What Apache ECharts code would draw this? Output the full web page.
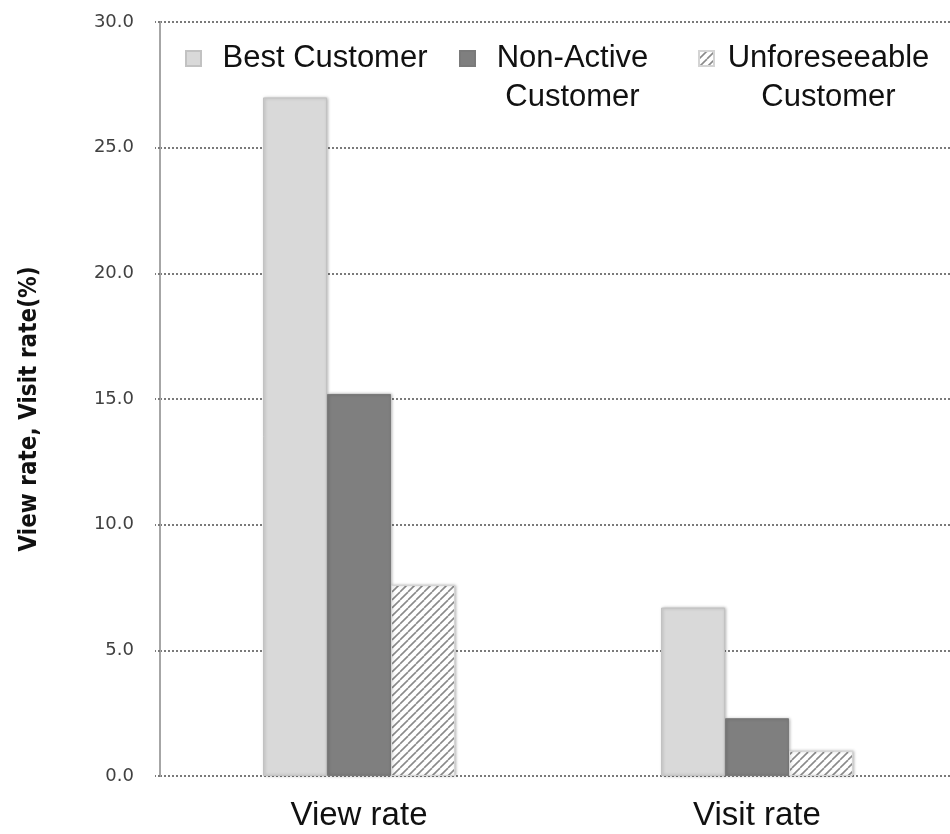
<!DOCTYPE html>
<html>
<head>
<meta charset="utf-8">
<script src="https://cdn.jsdelivr.net/npm/echarts@6/dist/echarts.min.js"></script>
<style>
  html, body { margin: 0; padding: 0; background: #ffffff; overflow: hidden; }
  /* the plot area runs slightly past the right edge of the window */
  #chart { width: 956px; height: 834px; }
</style>
</head>
<body>
<div id="chart"></div>
<script>
// Rates per customer segment (%)
const categories = ['View rate', 'Visit rate'];
const seriesNames = ['Best Customer', 'Non-Active Customer', 'Unforeseeable Customer'];
const bestCustomer = [27.0, 6.7];
const nonActiveCustomer = [15.2, 2.3];
const unforeseeableCustomer = [7.6, 1.0];
const yTicks = [0, 5, 10, 15, 20, 25, 30];

// Diagonal hatch tile for the third segment
const hatch = document.createElement('canvas');
hatch.width = 8;
hatch.height = 8;
(function () {
  const ctx = hatch.getContext('2d');
  ctx.fillStyle = '#ffffff';
  ctx.fillRect(0, 0, 8, 8);
  ctx.strokeStyle = '#8a8a8a';
  ctx.lineWidth = 1.6;
  for (const off of [-8, 0, 8]) {
    ctx.beginPath();
    ctx.moveTo(off, 8);
    ctx.lineTo(off + 8, 0);
    ctx.stroke();
  }
})();

const textFont = '"Liberation Sans", Arial, Helvetica, sans-serif';
const dotted = { color: '#7a7a7a', width: 2, type: [2, 2] };

function legendAt(name, left, top, lines, blockWidth) {
  const parts = lines.map(function (l) { return '{a|' + l + '}'; });
  if (lines.length > 1) parts.unshift('{e| }');
  return {
    data: [name],
    left: left,
    top: top,
    padding: 0,
    icon: 'rect',
    itemWidth: 15,
    itemHeight: 15,
    selectedMode: false,
    formatter: function () { return parts.join('\n'); },
    textStyle: {
      fontFamily: textFont,
      fontSize: 31,
      color: '#111111',
      lineHeight: 39,
      rich: {
        a: { fontFamily: textFont, fontSize: 31, color: '#111111', lineHeight: 39, width: blockWidth, align: 'center' },
        e: { fontSize: 31, lineHeight: 39 }
      }
    }
  };
}

const chart = echarts.init(document.getElementById('chart'), null, { renderer: 'canvas' });

const shadow = { shadowBlur: 3, shadowColor: 'rgba(0,0,0,0.25)', shadowOffsetX: 1 };

chart.setOption({
  animation: false,
  backgroundColor: '#ffffff',
  grid: { left: 160, right: 0, top: 22, bottom: 58 },
  legend: [
    legendAt(seriesNames[0], 185, 39, ['Best Customer'], 238),
    legendAt(seriesNames[1], 459, 0, ['Non-Active', 'Customer'], 185),
    legendAt(seriesNames[2], 698, 0, ['Unforeseeable', 'Customer'], 219)
  ],
  xAxis: {
    type: 'category',
    data: categories,
    axisLine: { show: false },
    axisTick: { show: false },
    axisLabel: { fontFamily: textFont, fontSize: 33, color: '#111111', margin: 23 }
  },
  yAxis: {
    type: 'value',
    min: yTicks[0],
    max: yTicks[yTicks.length - 1],
    interval: 5,
    name: 'View rate, Visit rate(%)',
    nameLocation: 'middle',
    nameRotate: 90,
    nameGap: 118,
    nameTextStyle: {
      fontFamily: '"DejaVu Sans Condensed", "Liberation Sans Narrow", "Liberation Sans", sans-serif',
      fontWeight: 'bold',
      fontSize: 24,
      color: '#111111',
      padding: [0, 0, 0, -20]
    },
    axisLine: { show: true, lineStyle: { color: '#a6a6a6', width: 2 } },
    axisTick: { show: true, length: 5, lineStyle: dotted },
    axisLabel: {
      fontFamily: '"DejaVu Sans", Verdana, sans-serif',
      fontSize: 18,
      color: '#404040',
      margin: 26,
      formatter: function (v) { return v.toFixed(1); }
    },
    splitLine: { show: true, lineStyle: dotted }
  },
  series: [
    {
      name: seriesNames[0],
      type: 'bar',
      data: bestCustomer,
      barWidth: 64,
      barGap: '0%',
      itemStyle: Object.assign({ color: '#d9d9d9', borderColor: '#c2c2c2', borderWidth: 1 }, shadow)
    },
    {
      name: seriesNames[1],
      type: 'bar',
      data: nonActiveCustomer,
      barWidth: 64,
      barGap: '0%',
      itemStyle: Object.assign({ color: '#7f7f7f', borderColor: '#7a7a7a', borderWidth: 1 }, shadow)
    },
    {
      name: seriesNames[2],
      type: 'bar',
      data: unforeseeableCustomer,
      barWidth: 64,
      barGap: '0%',
      itemStyle: Object.assign({ color: { image: hatch, repeat: 'repeat' }, borderColor: '#d4d4d4', borderWidth: 1 }, shadow)
    }
  ]
});
</script>
</body>
</html>
